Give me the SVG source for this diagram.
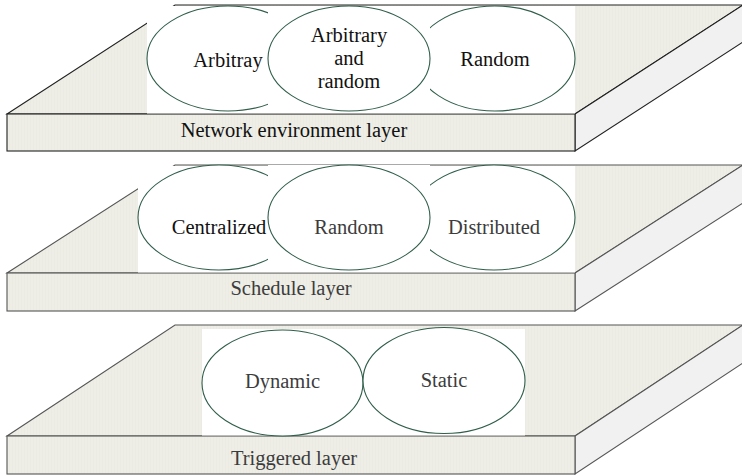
<svg xmlns="http://www.w3.org/2000/svg" width="742" height="476" viewBox="0 0 742 476">
  <defs>
    <pattern id="stripe" width="3" height="10" patternUnits="userSpaceOnUse">
      <rect width="3" height="10" fill="#eeeee7"/>
      <rect width="1" height="10" fill="#ebebe3"/>
    </pattern>
    <style>
      .face { fill: url(#stripe); }
      .side { fill: #f1f1f1; }
      .l1 { stroke: #222; stroke-width: 1.1; }
      .l2 { stroke: #555; stroke-width: 1.1; }
      .ell { fill: #fff; stroke: #2f5e4a; stroke-width: 1.1; }
      .t { font-size: 20.5px; text-anchor: middle; }
      .dark { fill: #111; }
      .grey { fill: #3c3c3c; }
    </style>
  </defs>
  <rect width="742" height="476" fill="#fff"/>

  <g font-family="Liberation Serif, DejaVu Serif, serif">
  <!-- Layer 1: Network environment layer -->
  <g id="layer-network">
    <polygon class="face l1" points="7,114 175,5 743,5 575,114"/>
    <polygon class="side l1" points="575,114 743,5 743,42 575,151"/>
    <rect class="face l1" x="7" y="114" width="568" height="37"/>
    <rect x="147" y="6" width="428" height="107.5" fill="#fff"/>
    <text class="t dark" x="294" y="137">Network environment layer</text>
  </g>
  <g id="node-arbitray">
    <ellipse class="ell" cx="228" cy="58.5" rx="81" ry="52.5"/>
    <text class="t dark" x="228" y="67">Arbitray</text>
  </g>
  <g id="node-random1">
    <ellipse class="ell" cx="495" cy="58.5" rx="80" ry="52.5"/>
    <text class="t dark" x="495" y="66">Random</text>
  </g>
  <g id="node-arbitrary-random">
    <rect x="268" y="6" width="162" height="105.5" fill="#fff"/>
    <ellipse class="ell" cx="349" cy="58.5" rx="81" ry="52.5"/>
    <text class="t dark" x="349" y="42">Arbitrary</text>
    <text class="t dark" x="349" y="65">and</text>
    <text class="t dark" x="349" y="88">random</text>
  </g>

  <!-- Layer 2: Schedule layer -->
  <g id="layer-schedule">
    <polygon class="face l2" points="7,273 175,165 743,165 575,273"/>
    <polygon class="side l2" points="575,273 743,165 743,203 575,311"/>
    <rect class="face l2" x="7" y="273" width="568" height="38"/>
    <rect x="138" y="166" width="437" height="106.5" fill="#fff"/>
    <text class="t grey" x="291" y="295">Schedule layer</text>
  </g>
  <g id="node-centralized">
    <ellipse class="ell" cx="219" cy="217.5" rx="81" ry="52.5"/>
    <text class="t dark" x="219" y="234">Centralized</text>
  </g>
  <g id="node-distributed">
    <ellipse class="ell" cx="494" cy="217.5" rx="81" ry="52.5"/>
    <text class="t grey" x="494" y="234">Distributed</text>
  </g>
  <g id="node-random2">
    <rect x="268" y="165" width="162" height="105.5" fill="#fff"/>
    <ellipse class="ell" cx="349" cy="217.5" rx="81" ry="52.5"/>
    <text class="t grey" x="349" y="234">Random</text>
  </g>

  <!-- Layer 3: Triggered layer -->
  <g id="layer-triggered">
    <polygon class="face l2" points="7,436 175,325 743,325 575,436"/>
    <polygon class="side l2" points="575,436 743,325 743,363 575,474"/>
    <rect class="face l2" x="7" y="436" width="568" height="38"/>
    <rect x="202" y="329" width="323" height="106.5" fill="#fff"/>
    <text class="t grey" x="294" y="465">Triggered layer</text>
  </g>
  <g id="node-dynamic">
    <ellipse class="ell" cx="282.5" cy="383" rx="80.5" ry="53"/>
    <text class="t grey" x="282.5" y="388">Dynamic</text>
  </g>
  <g id="node-static">
    <ellipse class="ell" cx="444" cy="380.5" rx="81" ry="53"/>
    <text class="t grey" x="444" y="387">Static</text>
  </g>
  </g>

  <g id="connectors"/>
</svg>
